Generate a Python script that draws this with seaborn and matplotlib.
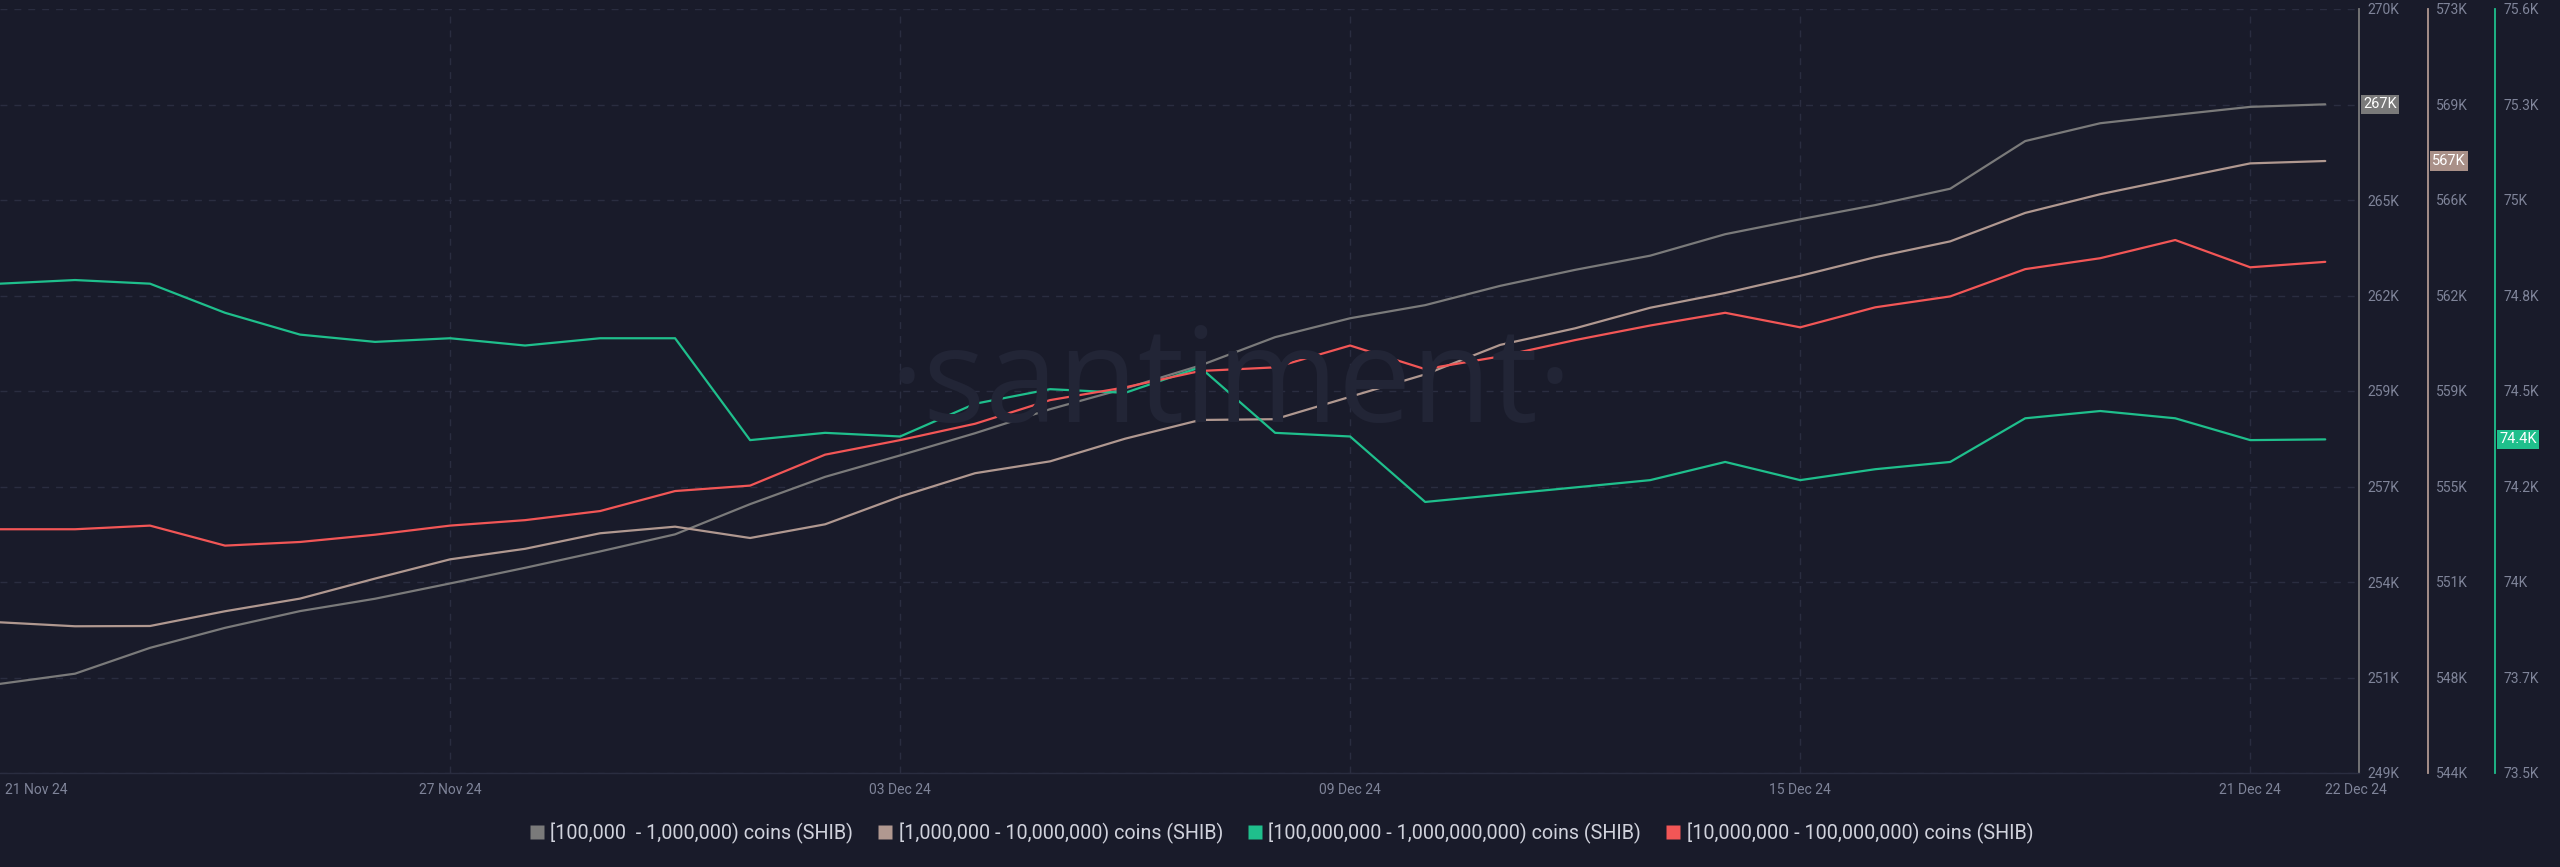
import matplotlib
matplotlib.use("Agg")
import matplotlib.pyplot as plt
from matplotlib.lines import Line2D
import matplotlib.transforms as mtransforms
import seaborn as sns
import numpy as np
import pandas as pd

# Daily SHIB holder counts per band (thousands), 21 Nov 24 - 22 Dec 24
dates = pd.date_range("2024-11-21", "2024-12-22", freq="D")

band_100k_1m = [251.25, 251.53, 252.24, 252.79, 253.25, 253.59, 254.01, 254.44,
                254.89, 255.36, 256.19, 256.94, 257.53, 258.14, 258.80, 259.37,
                260.00, 260.78, 261.30, 261.66, 262.19, 262.63, 263.02, 263.61,
                264.02, 264.41, 264.86, 266.17, 266.66, 266.89, 267.11, 267.18]

band_1m_10m = [549.72, 549.57, 549.58, 550.14, 550.62, 551.38, 552.11, 552.51,
               553.10, 553.35, 552.92, 553.44, 554.49, 555.38, 555.83, 556.69,
               557.40, 557.43, 558.28, 559.13, 560.25, 560.88, 561.66, 562.22,
               562.87, 563.58, 564.18, 565.26, 565.97, 566.56, 567.14, 567.23]

band_100m_1b = [74.80, 74.81, 74.80, 74.72, 74.66, 74.64, 74.65, 74.63,
                74.65, 74.65, 74.37, 74.39, 74.38, 74.47, 74.51, 74.50,
                74.57, 74.39, 74.38, 74.20, 74.22, 74.24, 74.26, 74.31,
                74.26, 74.29, 74.31, 74.43, 74.45, 74.43, 74.37, 74.372]

band_10m_100m = [96.34, 96.34, 96.36, 96.25, 96.27, 96.31, 96.36, 96.39,
                 96.44, 96.55, 96.58, 96.75, 96.83, 96.92, 97.05, 97.12,
                 97.21, 97.23, 97.35, 97.22, 97.29, 97.38, 97.46, 97.53,
                 97.45, 97.56, 97.62, 97.77, 97.83, 97.93, 97.78, 97.81]

series_labels = ["[100,000  - 1,000,000) coins (SHIB)",
                 "[1,000,000 - 10,000,000) coins (SHIB)",
                 "[100,000,000 - 1,000,000,000) coins (SHIB)",
                 "[10,000,000 - 100,000,000) coins (SHIB)"]

ticks_100k_1m = ["249K", "251K", "254K", "257K", "259K", "262K", "265K", "267K", "270K"]
ticks_1m_10m = ["544K", "548K", "551K", "555K", "559K", "562K", "566K", "569K", "573K"]
ticks_100m_1b = ["73.5K", "73.7K", "74K", "74.2K", "74.5K", "74.8K", "75K", "75.3K", "75.6K"]

xtick_dates = ["2024-11-21", "2024-11-27", "2024-12-03", "2024-12-09",
               "2024-12-15", "2024-12-21", "2024-12-22"]
xtick_labels = ["21 Nov 24", "27 Nov 24", "03 Dec 24", "09 Dec 24",
                "15 Dec 24", "21 Dec 24", "22 Dec 24"]
vgrid_dates = ["2024-11-27", "2024-12-03", "2024-12-09", "2024-12-15", "2024-12-21"]

BG = "#191b2a"
GRID = "#2a2d40"
TICK = "#7f8499"
c_grey = "#7a7a7a"
c_brown = "#b09890"
c_green = "#1fbf8c"
c_red = "#f25656"

sns.set_style("dark", {"axes.facecolor": BG, "figure.facecolor": BG})
plt.rcParams["font.family"] = ["Roboto", "DejaVu Sans"]

fig = plt.figure(figsize=(25.6, 8.67), dpi=100)
ax = fig.add_axes([0.0, 94 / 867, 2359 / 2560, 764 / 867])
ax.set_facecolor(BG)

ax_brown = ax.twinx()
ax_green = ax.twinx()
ax_red = ax.twinx()

# watermark
fig.text(1231 / 2560, 1 - 422 / 867, "\u00b7santiment\u00b7", ha="center", va="baseline",
         fontsize=94, color="#222536", family=["Open Sans", "DejaVu Sans"], zorder=0)

lw = 1.6
sns.lineplot(x=dates, y=band_100k_1m, ax=ax, color=c_grey, linewidth=lw)
sns.lineplot(x=dates, y=band_1m_10m, ax=ax_brown, color=c_brown, linewidth=lw)
sns.lineplot(x=dates, y=band_100m_1b, ax=ax_green, color=c_green, linewidth=lw)
sns.lineplot(x=dates, y=band_10m_100m, ax=ax_red, color=c_red, linewidth=lw)

x0 = dates[0]
x1 = dates[0] + pd.Timedelta(days=31.45)
axis_setup = [
    (ax, (248.8, 269.8), ticks_100k_1m, c_grey, 0.0),
    (ax_brown, (544.0, 573.0), ticks_1m_10m, c_brown, 69 / 2359),
    (ax_green, (73.455, 75.555), ticks_100m_1b, c_green, 136 / 2359),
]

for a, lim, labs, col, off in axis_setup:
    a.set_xlim(x0, x1)
    a.set_ylim(*lim)
    a.set_yticks(np.linspace(lim[0], lim[1], 9))
    a.set_yticklabels(labs)
    a.yaxis.tick_right()
    a.tick_params(axis="y", length=0, pad=6, labelsize=10, labelcolor=TICK)
    a.set_ylabel("")
    a.set_xlabel("")
    for s in ["left", "top", "bottom"]:
        a.spines[s].set_visible(False)
    a.spines["right"].set_visible(True)
    a.spines["right"].set_position(("axes", 1 + off))
    a.spines["right"].set_color(col)
    a.spines["right"].set_linewidth(1.3)

ax_red.set_xlim(x0, x1)
ax_red.set_ylim(95.0, 99.2)
ax_red.set_yticks([])
ax_red.set_ylabel("")
for s in ax_red.spines.values():
    s.set_visible(False)

# grid
ax.yaxis.grid(True, color=GRID, linestyle=(0, (5, 5)), linewidth=1)
ax.xaxis.grid(False)
for d in vgrid_dates:
    ax.axvline(pd.Timestamp(d), color=GRID, linestyle=(0, (5, 5)), linewidth=1, zorder=0)
ax.spines["bottom"].set_visible(True)
ax.spines["bottom"].set_color(GRID)
ax.spines["bottom"].set_linewidth(1)

ax.set_xticks([pd.Timestamp(d) for d in xtick_dates])
ax.set_xticklabels(xtick_labels)
ax.tick_params(axis="x", length=0, pad=7, labelsize=10, labelcolor=TICK)
xlabs = ax.get_xticklabels()
xlabs[0].set_ha("left")
xlabs[0].set_transform(xlabs[0].get_transform() +
                       mtransforms.ScaledTranslation(5 / 100, 0, fig.dpi_scale_trans))
xlabs[-1].set_ha("left")
for a in (ax_brown, ax_green, ax_red):
    a.tick_params(axis="x", bottom=False, labelbottom=False)

# last-value badges
badges = [
    (ax, 1.0, band_100k_1m[-1], f"{band_100k_1m[-1]:.0f}K", c_grey),
    (ax_brown, 1 + 69 / 2359, band_1m_10m[-1], f"{band_1m_10m[-1]:.0f}K", "#a99088"),
    (ax_green, 1 + 136 / 2359, band_100m_1b[-1], f"{band_100m_1b[-1]:.1f}K", c_green),
]
for a, xpos, val, txt, col in badges:
    a.annotate(txt, xy=(xpos, val), xycoords=("axes fraction", "data"),
               xytext=(3, 0), textcoords="offset points", ha="left", va="center",
               fontsize=10.5, color="white", annotation_clip=False,
               bbox=dict(boxstyle="square,pad=0.18", fc=col, ec="none"))

# legend
handles = [Line2D([], [], marker="s", linestyle="none", markersize=10,
                  markerfacecolor=c, markeredgecolor="none")
           for c in (c_grey, c_brown, c_green, c_red)]
fig.legend(handles, series_labels, loc="center", bbox_to_anchor=(0.5, 1 - 833 / 867),
           ncol=4, frameon=False, fontsize=14.2, labelcolor="#d0d2dc",
           handletextpad=0.2, columnspacing=1.1, handlelength=1.0)

fig.savefig("out.png", dpi=100, facecolor=BG)
